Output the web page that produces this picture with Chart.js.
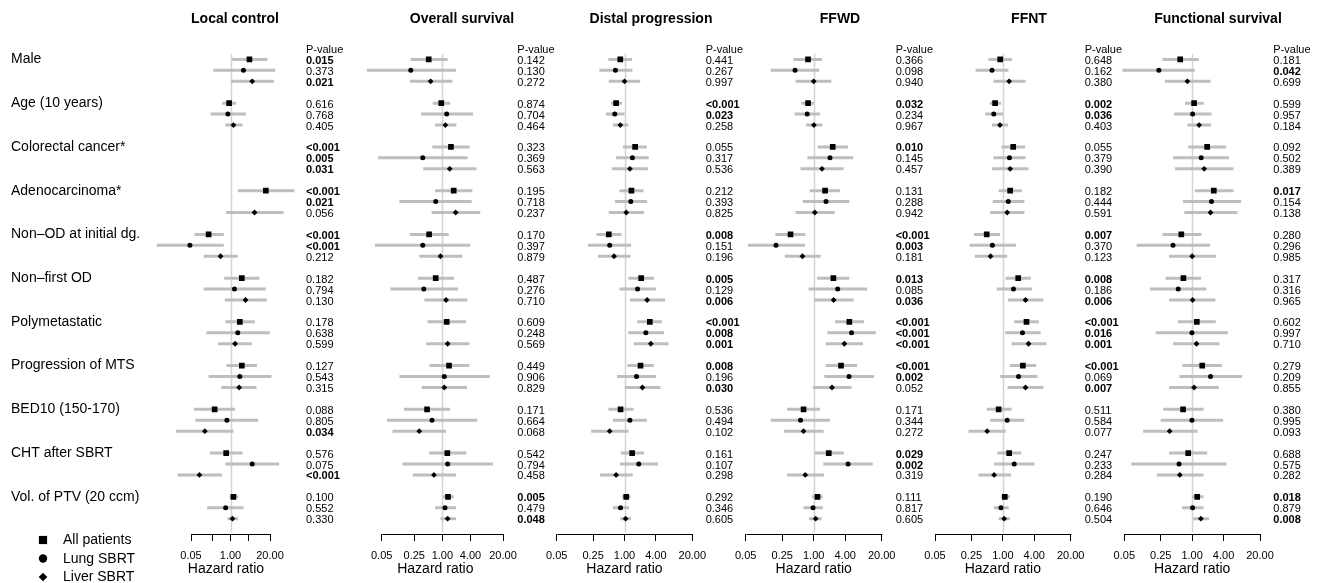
<!DOCTYPE html>
<html><head><meta charset="utf-8">
<script src="https://cdn.jsdelivr.net/npm/chart.js@4.4.1/dist/chart.umd.min.js"></script>
<style>
html,body{margin:0;padding:0;background:#fff;}
#wrap{position:relative;width:1322px;height:583px;overflow:hidden;background:#fff;}
#wrap canvas{position:absolute;left:0;top:0;}
</style>
</head><body><div id="wrap"></div>
<script>
// ---------- categories & labels ----------
const categories = ['Male','Age (10 years)','Colorectal cancer*','Adenocarcinoma*','Non\u2013OD at initial dg.','Non\u2013first OD','Polymetastatic','Progression of MTS','BED10 (150-170)','CHT after SBRT','Vol. of PTV (20 ccm)'];
const groupLabels = ['All patients','Lung SBRT','Liver SBRT'];
const tickValues = [0.05, 0.25, 1, 4, 20];

// ---------- data: [HR, lower CI, upper CI] per category ----------
// Local control
const localAll   = [[4.2,1.13,16.5],[0.90,0.53,1.54],null,[14.6,1.74,128],[0.19,0.065,0.60],[2.36,0.62,9.0],[2.03,0.68,6.3],[2.36,0.74,7.4],[0.30,0.062,1.42],[0.72,0.21,2.48],[1.25,0.93,1.79]];
const localLung  = [[2.68,0.27,29.6],[0.82,0.22,3.2],null,null,[0.046,0.0037,0.60],[1.35,0.13,14.6],[1.74,0.16,19.7],[2.03,0.19,22.4],[0.76,0.07,8.2],[5.2,0.67,40],[0.69,0.17,2.68]];
const localLiver = [[5.2,1.03,26.7],[1.25,0.68,2.48],null,[6.2,0.72,55.7],[0.47,0.13,1.74],[3.12,0.65,15.7],[1.42,0.39,5.0],[1.93,0.50,7.2],[0.143,0.016,1.26],[0.095,0.018,0.52],[1.16,0.80,1.79]];
const localP = [['0.015','0.373','0.021'],['0.616','0.768','0.405'],['<0.001','0.005','0.031'],['<0.001','0.021','0.056'],['<0.001','<0.001','0.212'],['0.182','0.794','0.130'],['0.178','0.638','0.599'],['0.127','0.543','0.315'],['0.088','0.805','0.034'],['0.576','0.075','<0.001'],['0.100','0.552','0.330']];
// Overall survival
const osAll   = [[0.51,0.21,1.30],[0.95,0.62,1.48],[1.53,0.61,3.86],[1.75,0.70,4.4],[0.52,0.20,1.37],[0.72,0.30,1.78],[1.24,0.48,3.22],[1.39,0.53,3.79],[0.47,0.15,1.46],[1.28,0.52,3.27],[1.32,1.03,1.75]];
const osLung  = [[0.21,0.024,1.96],[1.24,0.35,4.55],[0.38,0.042,3.49],[0.72,0.12,4.26],[0.38,0.036,3.98],[0.40,0.077,2.17],null,[1.10,0.12,10.4],[0.60,0.065,5.6],[1.30,0.14,12.2],[1.14,0.70,1.96]];
const osLiver = [[0.56,0.20,1.64],[1.16,0.70,2.0],[1.44,0.39,5.4],[1.93,0.59,6.5],[0.91,0.32,2.68],[1.2,0.41,3.44],[1.30,0.45,3.79],[1.10,0.36,3.38],[0.32,0.085,1.2],[0.66,0.23,1.96],[1.30,0.91,1.96]];
const osP = [['0.142','0.130','0.272'],['0.874','0.704','0.464'],['0.323','0.369','0.563'],['0.195','0.718','0.237'],['0.170','0.397','0.879'],['0.487','0.276','0.710'],['0.609','0.248','0.569'],['0.449','0.906','0.829'],['0.171','0.664','0.068'],['0.542','0.794','0.458'],['0.005','0.479','0.048']];
// Distal progression
const dpAll   = [[0.83,0.49,1.40],[0.69,0.55,0.90],[1.60,0.94,2.68],[1.36,0.80,2.31],[0.50,0.29,0.88],[2.09,1.18,3.71],[3.06,1.75,5.2],[2.03,1.14,3.65],[0.84,0.49,1.49],[1.40,0.85,2.38],[1.08,0.90,1.30]];
const dpLung  = [[0.67,0.33,1.42],[0.65,0.44,1.0],[1.42,0.69,2.93],[1.32,0.66,2.72],[0.52,0.20,1.34],[1.78,0.80,3.99],[2.57,1.18,5.7],[1.70,0.72,3.99],[1.27,0.60,2.68],[1.88,0.81,4.42],[0.84,0.60,1.23]];
const dpLiver = [[1.0,0.50,2.0],[0.83,0.60,1.19],[1.27,0.57,2.84],[1.08,0.50,2.35],[0.63,0.31,1.30],[2.72,1.27,6.0],[3.2,1.51,7.0],[2.21,1.01,4.9],[0.52,0.23,1.19],[0.69,0.34,1.44],[1.05,0.83,1.34]];
const dpP = [['0.441','0.267','0.997'],['<0.001','0.023','0.258'],['0.055','0.317','0.536'],['0.212','0.393','0.825'],['0.008','0.151','0.196'],['0.005','0.129','0.006'],['<0.001','0.008','0.001'],['0.008','0.196','0.030'],['0.536','0.494','0.102'],['0.161','0.107','0.298'],['0.292','0.346','0.605']];
// FFWD
const fwAll   = [[0.78,0.41,1.44],[0.78,0.58,1.01],[2.31,1.19,4.54],[1.65,0.84,3.19],[0.36,0.185,0.69],[2.38,1.16,4.81],[4.81,2.56,9.2],[3.33,1.70,6.75],[0.64,0.31,1.32],[1.94,1.05,3.75],[1.18,0.93,1.49]];
const fwLung  = [[0.44,0.15,1.28],[0.75,0.43,1.32],[2.05,0.76,5.7],[1.72,0.62,4.81],[0.19,0.055,0.68],[2.88,0.80,10.5],[5.3,1.83,15.4],[4.74,1.60,14.3],[0.56,0.15,2.05],[4.54,1.53,13.5],[0.97,0.64,1.49]];
const fwLiver = [[1.0,0.45,2.18],[1.01,0.71,1.47],[1.44,0.56,3.75],[1.05,0.45,2.52],[0.61,0.28,1.36],[2.41,1.03,5.8],[3.86,1.70,8.8],[2.24,0.96,5.3],[0.64,0.27,1.55],[0.69,0.31,1.58],[1.09,0.81,1.42]];
const fwP = [['0.366','0.098','0.940'],['0.032','0.234','0.967'],['0.010','0.145','0.457'],['0.131','0.288','0.942'],['<0.001','0.003','0.181'],['0.013','0.085','0.036'],['<0.001','<0.001','<0.001'],['<0.001','0.002','0.052'],['0.171','0.344','0.272'],['0.029','0.002','0.319'],['0.111','0.817','0.605']];
// FFNT
const fnAll   = [[0.89,0.53,1.49],[0.71,0.56,0.93],[1.58,0.94,2.68],[1.38,0.83,2.31],[0.49,0.28,0.88],[1.97,1.13,3.44],[2.84,1.65,4.9],[2.42,1.36,4.36],[0.83,0.49,1.47],[1.32,0.78,2.25],[1.09,0.93,1.36]];
const fnLung  = [[0.62,0.30,1.28],[0.67,0.46,1.01],[1.34,0.66,2.72],[1.27,0.64,2.6],[0.63,0.23,1.78],[1.60,0.76,3.6],[2.38,1.11,5.3],[2.0,0.89,4.62],[1.21,0.57,2.57],[1.65,0.68,4.05],[0.92,0.67,1.30]];
const fnLiver = [[1.32,0.66,2.72],[0.88,0.62,1.25],[1.38,0.62,3.11],[1.21,0.57,2.6],[0.58,0.29,1.21],[2.72,1.25,6.0],[3.11,1.47,6.9],[2.72,1.23,6.0],[0.50,0.22,1.14],[0.68,0.34,1.44],[1.06,0.83,1.36]];
const fnP = [['0.648','0.162','0.380'],['0.002','0.036','0.403'],['0.055','0.379','0.390'],['0.182','0.444','0.591'],['0.007','0.370','0.123'],['0.008','0.186','0.006'],['<0.001','0.016','0.001'],['<0.001','0.069','0.007'],['0.511','0.584','0.077'],['0.247','0.233','0.284'],['0.190','0.646','0.504']];
// Functional survival
const fsAll   = [[0.59,0.27,1.34],[1.09,0.73,1.67],[1.94,0.84,4.49],[2.6,1.13,6.2],[0.62,0.27,1.51],[0.68,0.31,1.49],[1.23,0.53,2.84],[1.56,0.65,3.71],[0.67,0.28,1.67],[0.84,0.36,1.94],[1.25,1.0,1.65]];
const fsLung  = [[0.23,0.046,1.13],[1.02,0.45,2.35],[1.49,0.43,5.1],[2.35,0.67,8.7],[0.43,0.086,2.21],[0.54,0.156,1.88],[0.99,0.20,4.83],[2.25,0.57,9.1],[0.99,0.25,3.93],[0.56,0.068,4.55],[1.02,0.64,1.65]];
const fsLiver = [[0.81,0.30,2.25],[1.36,0.81,2.31],[1.70,0.47,6.2],[2.25,0.71,7.4],[1.0,0.36,2.84],[1.02,0.36,2.8],[1.21,0.43,3.34],[1.09,0.36,3.25],[0.37,0.115,1.27],[0.58,0.21,1.65],[1.47,1.05,2.12]];
const fsP = [['0.181','0.042','0.699'],['0.599','0.957','0.184'],['0.092','0.502','0.389'],['0.017','0.154','0.138'],['0.280','0.296','0.985'],['0.317','0.316','0.965'],['0.602','0.997','0.710'],['0.279','0.209','0.855'],['0.380','0.995','0.093'],['0.688','0.575','0.282'],['0.018','0.879','0.008']];

// ---------- panel layout ----------
const panels = [
  {title:'Local control',       groups:[localAll,localLung,localLiver], p:localP, labeled:[0.05,1,20], ax0:191,   ax1:270,   min:0.002, max:250, titleX:235,  pX:306},
  {title:'Overall survival',    groups:[osAll,osLung,osLiver],          p:osP,    labeled:tickValues, ax0:381.7, ax1:503,   min:0.01,  max:50,  titleX:462,  pX:517.3},
  {title:'Distal progression',  groups:[dpAll,dpLung,dpLiver],          p:dpP,    labeled:tickValues, ax0:556.7, ax1:692.3, min:0.04,  max:25,  titleX:651,  pX:705.7},
  {title:'FFWD',                groups:[fwAll,fwLung,fwLiver],          p:fwP,    labeled:tickValues, ax0:745.7, ax1:881.7, min:0.04,  max:25,  titleX:840,  pX:895.7},
  {title:'FFNT',                groups:[fnAll,fnLung,fnLiver],          p:fnP,    labeled:tickValues, ax0:935,   ax1:1070.7,min:0.04,  max:25,  titleX:1029, pX:1084.7},
  {title:'Functional survival', groups:[fsAll,fsLung,fsLiver],          p:fsP,    labeled:tickValues, ax0:1124.3,ax1:1260,  min:0.04,  max:25,  titleX:1218, pX:1273.3}
];

const FONT = '"Liberation Sans", Arial, Helvetica, sans-serif';
Chart.defaults.font.family = FONT;
Chart.defaults.color = '#000';
const W = 1322, H = 583, TOP = 48.5, AXH = 49, YMIN = -1, YMAX = 43.4;
const CI_COLOR = '#bebebe';
const markerStyles = [
  {pointStyle:'rect',    radius:4.0, legendRadius:5.8},
  {pointStyle:'circle',  radius:2.5, legendRadius:4.2},
  {pointStyle:'rectRot', radius:2.9, legendRadius:4.3}
];
const slotOf = (g, j) => 4 * g + j;
const isSig = s => s.charAt(0) === '<' || parseFloat(s) < 0.05;

const decoPlugin = {
  id: 'deco',
  beforeDatasetsDraw(chart, args, o) {
    const ctx = chart.ctx, xs = chart.scales.x, ca = chart.chartArea;
    const x = Math.round(xs.getPixelForValue(1)) + 0.5;
    ctx.save();
    ctx.strokeStyle = '#d4d4d4';
    ctx.lineWidth = 1.5;
    ctx.beginPath();
    ctx.moveTo(x, ca.top + 5.5);
    ctx.lineTo(x, ca.bottom - 2);
    ctx.stroke();
    ctx.restore();
  },
  afterDraw(chart, args, o) {
    const ctx = chart.ctx, xs = chart.scales.x, ys = chart.scales.y, ca = chart.chartArea;
    const p = o.panel;
    ctx.save();
    // axis line from first to last tick
    ctx.strokeStyle = '#000'; ctx.lineWidth = 1;
    const yA = Math.round(ca.bottom) + 0.5;
    ctx.beginPath();
    ctx.moveTo(Math.round(xs.getPixelForValue(tickValues[0])) + 0.5, yA);
    ctx.lineTo(Math.round(xs.getPixelForValue(tickValues[tickValues.length - 1])) + 0.5, yA);
    ctx.stroke();
    // title
    ctx.fillStyle = '#000';
    ctx.font = 'bold 14px ' + FONT;
    ctx.textAlign = 'center'; ctx.textBaseline = 'middle';
    ctx.fillText(p.title, p.titleX, 19);
    // p-values
    ctx.textAlign = 'left';
    ctx.font = '11px ' + FONT;
    ctx.fillText('P-value', p.pX, ys.getPixelForValue(0) - 9.5);
    p.p.forEach((row, g) => row.forEach((s, j) => {
      ctx.font = (isSig(s) ? 'bold ' : '') + '11px ' + FONT;
      ctx.fillText(s, p.pX, ys.getPixelForValue(slotOf(g, j)) + 1.5);
    }));
    // legend (first panel only)
    if (o.legend) {
      markerStyles.forEach((m, i) => {
        const y = 540 + i * 18.5;
        ctx.fillStyle = '#000';
        Chart.helpers.drawPoint(ctx, {pointStyle: m.pointStyle, radius: m.legendRadius, rotation: 0, borderWidth: 0}, 43, y);
        ctx.font = '14px ' + FONT;
        ctx.textAlign = 'left'; ctx.textBaseline = 'middle';
        ctx.fillText(groupLabels[i], 63, y + 0.5);
      });
    }
    ctx.restore();
  }
};

const wrap = document.getElementById('wrap');
const LN400 = Math.log(tickValues[tickValues.length - 1] / tickValues[0]);

panels.forEach((p, pi) => {
  const k = (p.ax1 - p.ax0) / LN400;
  const left = p.ax0 + k * Math.log(p.min / tickValues[0]);
  const right = p.ax1 + k * Math.log(p.max / tickValues[tickValues.length - 1]);
  const canvas = document.createElement('canvas');
  canvas.width = W; canvas.height = H;
  wrap.appendChild(canvas);

  const ciData = [];
  const markerData = p.groups.map(() => []);
  for (let g = 0; g < categories.length; g++) {
    p.groups.forEach((arr, j) => {
      const e = arr[g];
      if (!e) return;
      const s = slotOf(g, j);
      ciData.push({x: e[1], y: s}, {x: e[2], y: s}, {x: e[2], y: null});
      markerData[j].push({x: e[0], y: s});
    });
  }

  const datasets = markerData.map((d, j) => ({
    label: groupLabels[j], data: d, order: 0,
    pointStyle: markerStyles[j].pointStyle, pointRadius: markerStyles[j].radius,
    pointBackgroundColor: '#000', pointBorderColor: '#000', pointBorderWidth: 0,
    showLine: false
  }));
  datasets.push({
    label: 'CI', data: ciData, order: 10, showLine: true, spanGaps: false,
    borderColor: CI_COLOR, borderWidth: 3, borderCapStyle: 'butt', pointRadius: 0
  });

  const first = pi === 0;
  new Chart(canvas, {
    type: 'scatter',
    data: {datasets},
    options: {
      responsive: false, animation: false, devicePixelRatio: 1,
      layout: {padding: {top: TOP, bottom: 0, left: first ? 11 : left, right: W - right}},
      plugins: {legend: {display: false}, tooltip: {enabled: false}, title: {display: false},
        deco: {panel: p, legend: first}},
      scales: {
        x: {
          type: 'logarithmic', min: p.min, max: p.max, position: 'bottom',
          afterBuildTicks: s => { s.ticks = tickValues.map(v => ({value: v})); },
          afterFit: s => { s.height = AXH; },
          ticks: {autoSkip: false, maxRotation: 0, minRotation: 0, padding: 8, color: '#000',
            font: {size: 11},
            callback: v => p.labeled.includes(v) ? v.toFixed(2) : ''},
          grid: {drawOnChartArea: false, drawTicks: true, tickLength: 7, color: '#000', lineWidth: 1},
          border: {display: false},
          title: {display: true, text: 'Hazard ratio', color: '#000', font: {size: 14}, padding: {top: 0, bottom: 5}}
        },
        y: {
          type: 'linear', reverse: true, min: YMIN, max: YMAX, display: first,
          afterBuildTicks: s => { s.ticks = categories.map((c, g) => ({value: slotOf(g, 0)})); },
          afterFit: s => { s.width = first ? left - 11 : 0; },
          ticks: {autoSkip: false, crossAlign: 'far', padding: 0, color: '#000', font: {size: 14},
            callback: (v, i) => categories[i]},
          grid: {display: false, drawTicks: false},
          border: {display: false}
        }
      }
    },
    plugins: [decoPlugin]
  });
});
</script>
</body></html>
